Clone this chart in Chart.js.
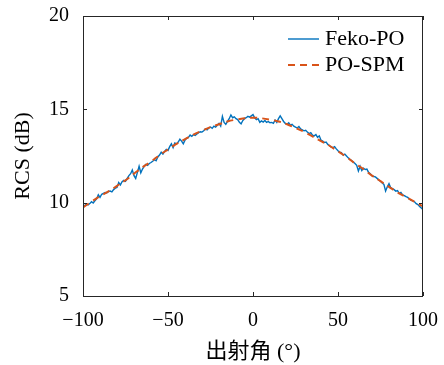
<!DOCTYPE html>
<html>
<head>
<meta charset="utf-8">
<script src="https://cdn.jsdelivr.net/npm/chart.js@4.4.0/dist/chart.umd.min.js"></script>
<style>
  html, body { margin: 0; padding: 0; background: #fff; }
  #wrap { width: 444px; height: 365px; }
</style>
</head>
<body>
<div id="wrap"><canvas id="rcs" width="444" height="365"></canvas></div>
<script>
// Feko-PO, one value per degree from -100 to 100
var fekoStart = -100;
var fekoRcs = [
  9.72, 9.85, 9.92, 9.88, 9.95, 10.05, 9.98, 10.1, 10.2, 10.42,
  10.28, 10.45, 10.5, 10.55, 10.52, 10.6, 10.62, 10.58, 10.7, 10.78,
  10.82, 11.08, 10.95, 11.12, 11.2, 11.15, 11.3, 11.45, 11.55, 11.75,
  11.45, 11.3, 11.62, 11.95, 11.6, 11.8, 11.95, 12.05, 12.0, 12.1,
  12.15, 12.22, 12.3, 12.25, 12.45, 12.55, 12.7, 12.6, 12.75, 12.85,
  12.8, 13.0, 13.15, 12.95, 13.2, 13.15, 13.25, 13.4, 13.3, 13.15,
  13.35, 13.45, 13.5, 13.62, 13.55, 13.65, 13.6, 13.68, 13.75, 13.8,
  13.78, 13.85, 13.95, 13.9, 14.0, 14.05, 13.98, 14.1, 14.05, 14.15,
  14.25, 14.1, 14.62, 14.3, 14.2, 14.35, 14.5, 14.7, 14.55, 14.6,
  14.5, 14.45, 14.3, 14.22, 14.4, 14.5, 14.55, 14.62, 14.58, 14.65,
  14.72,
  14.55, 14.45, 14.5, 14.3, 14.38, 14.32, 14.4, 14.3, 14.35, 14.28,
  14.3, 14.25, 14.42, 14.3, 14.5, 14.65, 14.5, 14.35, 14.25, 14.2,
  14.28, 14.15, 14.2, 14.1, 14.05, 14.0, 14.08, 13.95, 13.9, 13.85,
  13.88, 13.78, 13.7, 13.75, 13.62, 13.58, 13.65, 13.5, 13.58, 13.35,
  13.3, 13.22, 13.25, 13.12, 13.05, 12.98, 12.95, 13.0, 12.88, 12.78,
  12.7, 12.68, 12.55, 12.6, 12.5, 12.4, 12.32, 12.25, 12.18, 12.1,
  12.0, 11.7, 11.95, 11.72, 11.85, 11.78, 11.8, 11.62, 11.55, 11.45,
  11.4, 11.38, 11.3, 11.22, 11.15, 11.05, 10.98, 10.62, 10.85, 11.02,
  10.8, 10.75, 10.7, 10.62, 10.65, 10.5, 10.55, 10.42, 10.38, 10.32,
  10.28, 10.2, 10.12, 10.1, 10.05, 9.95, 9.9, 9.8, 9.72, 9.62
];

// PO-SPM, every 5 degrees
var spmAngles = [-100, -95, -90, -85, -80, -75, -70, -65, -60, -55, -50, -45, -40, -35, -30, -25, -20, -15, -10, -5,
  0, 5, 10, 15, 20, 25, 30, 35, 40, 45, 50, 55, 60, 65, 70, 75, 80, 85, 90, 95, 100];
var spmRcs = [9.75, 10.05, 10.35, 10.6, 10.9, 11.2, 11.55, 11.9, 12.2, 12.55, 12.85, 13.15, 13.4, 13.65, 13.85, 14.05, 14.2, 14.35, 14.45, 14.52,
  14.55, 14.52, 14.45, 14.35, 14.2, 14.0, 13.8, 13.55, 13.3, 13.05, 12.75, 12.45, 12.1, 11.8, 11.45, 11.15, 10.85, 10.55, 10.3, 10.05, 9.8];

var xTicks = [-100, -50, 0, 50, 100];
var yTicks = [5, 10, 15, 20];

var serif = "'Liberation Serif', 'Noto Sans CJK SC', serif";

var fekoPts = [];
for (var i = 0; i < fekoRcs.length; i++) {
  fekoPts.push({x: fekoStart + i, y: fekoRcs[i]});
}
var spmPts = [];
for (var j = 0; j < spmAngles.length; j++) {
  spmPts.push({x: spmAngles[j], y: spmRcs[j]});
}

// box, inward ticks, legend in the top right corner
var framePlugin = {
  id: 'frame',
  afterDraw: function(chart) {
    var ctx = chart.ctx, a = chart.chartArea;
    var xs = chart.scales.x, ys = chart.scales.y;
    ctx.save();
    ctx.strokeStyle = '#262626';
    ctx.lineWidth = 1;
    ctx.strokeRect(a.left + 0.5, a.top + 0.5, a.right - a.left - 1, a.bottom - a.top);
    ctx.beginPath();
    var len = 4;
    xTicks.forEach(function(v) {
      var px = Math.round(xs.getPixelForValue(v)) + 0.5;
      ctx.moveTo(px, a.bottom); ctx.lineTo(px, a.bottom - len);
      ctx.moveTo(px, a.top); ctx.lineTo(px, a.top + len);
    });
    yTicks.forEach(function(v) {
      var py = Math.round(ys.getPixelForValue(v)) + 0.5;
      ctx.moveTo(a.left, py); ctx.lineTo(a.left + len, py);
      ctx.moveTo(a.right, py); ctx.lineTo(a.right - len, py);
    });
    ctx.stroke();

    // legend
    ctx.font = "22px " + serif;
    ctx.textBaseline = 'middle';
    ctx.fillStyle = '#000';
    var rows = [39, 65];
    chart.data.datasets.forEach(function(ds, k) {
      var yy = rows[k];
      ctx.beginPath();
      ctx.strokeStyle = ds.borderColor;
      ctx.lineWidth = ds.borderWidth;
      ctx.setLineDash(ds.borderDash || []);
      ctx.moveTo(288, yy); ctx.lineTo(319, yy);
      ctx.stroke();
      ctx.setLineDash([]);
      ctx.fillText(ds.label, 325, yy);
    });
    ctx.restore();
  }
};

var cfg = {
  type: 'line',
  data: {
    datasets: [
      {
        label: 'Feko-PO',
        data: fekoPts,
        borderColor: '#0072BD',
        borderWidth: 1.4,
        pointRadius: 0,
        tension: 0,
        order: 1
      },
      {
        label: 'PO-SPM',
        data: spmPts,
        borderColor: '#D95319',
        borderWidth: 2,
        borderDash: [7, 5],
        pointRadius: 0,
        tension: 0.4,
        order: 0
      }
    ]
  },
  options: {
    responsive: false,
    animation: false,
    layout: { padding: { top: 16, right: 21, left: 0, bottom: 0 } },
    plugins: { legend: { display: false }, tooltip: { enabled: false } },
    scales: {
      x: {
        type: 'linear',
        min: -100, max: 100,
        afterFit: function(s) { s.height = 69; s.paddingLeft = 0; s.paddingRight = 0; },
        afterBuildTicks: function(s) { s.ticks = xTicks.map(function(v) { return {value: v}; }); },
        grid: { display: false, drawTicks: false },
        border: { display: false },
        ticks: {
          padding: 13,
          color: '#000',
          font: { family: serif, size: 20 },
          maxRotation: 0,
          callback: function(v) { return String(v).replace('-', '\u2212'); }
        },
        title: {
          display: true,
          text: '出射角 (°)',
          color: '#000',
          font: { family: serif, size: 22 },
          padding: { top: 0, bottom: 0 }
        }
      },
      y: {
        type: 'linear',
        min: 5, max: 20,
        afterFit: function(s) { s.width = 83; s.paddingTop = 0; s.paddingBottom = 0; },
        afterBuildTicks: function(s) { s.ticks = yTicks.map(function(v) { return {value: v}; }); },
        grid: { display: false, drawTicks: false },
        border: { display: false },
        ticks: {
          padding: 14,
          color: '#000',
          font: { family: serif, size: 20 }
        },
        title: {
          display: true,
          text: 'RCS (dB)',
          color: '#000',
          font: { family: serif, size: 22 },
          padding: { top: 10, bottom: 0 }
        }
      }
    }
  },
  plugins: [framePlugin]
};

new Chart(document.getElementById('rcs').getContext('2d'), cfg);
</script>
</body>
</html>
